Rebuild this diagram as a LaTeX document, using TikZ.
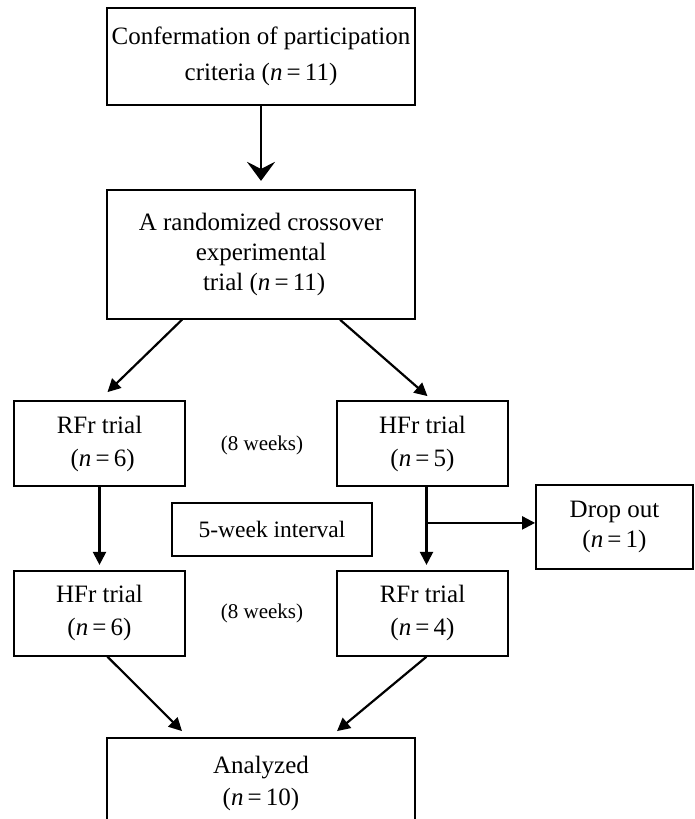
\documentclass[tikz,border=0pt]{standalone}
\usepackage{fontspec}
\setmainfont{Liberation Serif}
\usetikzlibrary{positioning}
\usetikzlibrary{arrows.meta}

\begin{document}
\begin{tikzpicture}[x=1pt, y=1pt,
        box/.style = {rectangle, draw, line width=1.8pt, align=center, inner sep=0pt, font=\fontsize{25}{30}\selectfont},
        trialbox/.style = {box, minimum width=171pt, minimum height=85pt, font=\fontsize{25}{33}\selectfont},
        arr/.style = {-{Triangle[length=13pt, width=13pt]}, line width=2.2pt}]
        \clip (0, 0) rectangle (694, -819);

        \node[box, minimum width=308pt, minimum height=97pt, font=\fontsize{25}{36}\selectfont] (crit) at (261, -56.5) {Confermation of participation\\ criteria (\textit{n}\,=\,11)};
        \node[box, minimum width=308pt, minimum height=129pt] (rand) [below = 83pt of crit] {A randomized crossover\\ experimental\\ \ trial (\textit{n}\,=\,11)};

        \node[trialbox] (rfrA) at (99.5, -443.5) {RFr trial\\ \ (\textit{n}\,=\,6)};
        \node[trialbox] (hfrA) at (422.5, -443.5) {HFr trial\\ (\textit{n}\,=\,5)};
        \node[trialbox] (hfrB) [below = 83pt of rfrA] {HFr trial\\ (\textit{n}\,=\,6)};
        \node[trialbox] (rfrB) [below = 83pt of hfrA] {RFr trial\\ (\textit{n}\,=\,4)};

        \node[font=\fontsize{21}{25}\selectfont] (weeksA) at (262, -445) {(8 weeks)};
        \node[font=\fontsize{21}{25}\selectfont] (weeksB) at (262, -613) {(8 weeks)};
        \node[box, minimum width=200pt, minimum height=53pt, font=\fontsize{23.5}{28}\selectfont] (pause) at (272, -529.5) {5-week interval};
        \node[box, minimum width=157pt, minimum height=84pt] (drop) at (614.5, -527) {Drop out\\ (\textit{n}\,=\,1)};

        \node[box, minimum width=308pt, minimum height=90pt, font=\fontsize{25}{32}\selectfont] (done) at (261, -783) {Analyzed\\ (\textit{n}\,=\,10)};

        \coordinate (split) at ([xshift=4pt, yshift=-36pt]hfrA.south);

        \draw[-{Stealth[length=19pt, width=28pt, inset=7pt]}, line width=2.6pt, shorten >=8pt] (crit) -- (rand);
        \draw[arr] ([xshift=-79pt]rand.south) -- ([xshift=8pt, yshift=8pt]rfrA.north);
        \draw[arr] ([xshift=79pt]rand.south) -- ([xshift=5pt, yshift=4pt]hfrA.north);
        \draw[arr, shorten >=5pt] (rfrA) -- (hfrB);
        \draw[arr, shorten >=5pt] ([xshift=4pt]hfrA.south) -- ([xshift=4pt]rfrB.north);
        \draw[arr] (split) -- (split -| drop.west);
        \draw[arr] ([xshift=8pt]hfrB.south) -- ([xshift=-79pt, yshift=6pt]done.north);
        \draw[arr] ([xshift=4pt]rfrB.south) -- ([xshift=76pt, yshift=6pt]done.north);
      \end{tikzpicture}
\end{document}
